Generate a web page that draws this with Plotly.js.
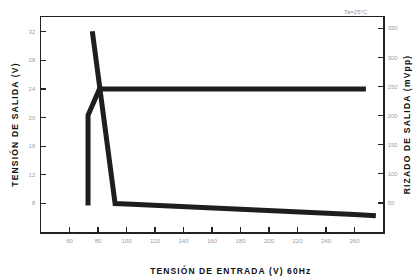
<!DOCTYPE html>
<html><head><meta charset="utf-8">
<script src="https://cdn.plot.ly/plotly-3.0.1.min.js"></script>
<style>
body{margin:0;background:#fff}
#c{width:416px;height:277px}
.ytitle,.y2title{letter-spacing:1.2px}
g.annotation[data-index="0"] text{letter-spacing:1.1px}
</style></head><body>
<div id="c"></div>
<script>
// Output voltage (left axis, V)
const voutX = [73, 73, 81, 268];
const voutY = [7.7, 20.3, 24.0, 24.0];
// Output ripple (right axis, mVpp)
const ripX = [76, 92, 100, 120, 140, 160, 180, 200, 220, 240, 260, 275];
const ripY = [345, 49, 48, 46, 44, 42, 39, 36, 34, 32, 30, 28];
const xTicks = [60, 80, 100, 120, 140, 160, 180, 200, 220, 240, 260];
const yTicks = [8, 12, 16, 20, 24, 28, 32];
const y2Ticks = [50, 100, 150, 200, 250, 300, 350];

const tickFont = {family: 'Liberation Sans, Arial, sans-serif', size: 6, color: '#a0a0a0'};
const titleFont = {family: 'Liberation Sans, Arial, sans-serif', size: 8.5, color: '#111', weight: 'bold'};

const traces = [
  {x: voutX, y: voutY, type: 'scatter', mode: 'lines', name: 'Tensión de salida',
   line: {color: '#1e1e1e', width: 5}, yaxis: 'y', showlegend: false},
  {x: ripX, y: ripY, type: 'scatter', mode: 'lines', name: 'Rizado de salida',
   line: {color: '#1e1e1e', width: 5}, yaxis: 'y2', showlegend: false}
];

const layout = {
  width: 416, height: 277,
  margin: {l: 41, r: 33, t: 17, b: 45},
  paper_bgcolor: '#fff', plot_bgcolor: '#fff',
  showlegend: false,
  xaxis: {range: [40, 280], tickvals: xTicks, ticktext: xTicks.map(String),
    ticks: 'inside', ticklen: 5, tickwidth: 1.2, tickcolor: '#222',
    showline: true, linecolor: '#222', linewidth: 1.5, mirror: true,
    showgrid: false, zeroline: false, tickfont: tickFont, ticklabelstandoff: 2},
  yaxis: {range: [4, 34.05], tickvals: yTicks, ticktext: yTicks.map(String),
    ticks: 'inside', ticklen: 5, tickwidth: 1.2, tickcolor: '#222',
    showline: true, linecolor: '#222', linewidth: 1.5,
    showgrid: false, zeroline: false, tickfont: tickFont, ticklabelstandoff: 3,
    title: {text: 'TENSIÓN DE SALIDA (V)', font: titleFont, standoff: 8}},
  yaxis2: {range: [0, 369.5], overlaying: 'y', side: 'right',
    tickvals: y2Ticks, ticktext: y2Ticks.map(String),
    ticks: 'inside', ticklen: 5, tickwidth: 1.2, tickcolor: '#222',
    showline: true, linecolor: '#222', linewidth: 1.5,
    showgrid: false, zeroline: false, tickfont: tickFont, ticklabelstandoff: 2,
    title: {text: 'RIZADO DE SALIDA (mVpp)', font: titleFont, standoff: 6}},
  annotations: [
    {text: 'TENSIÓN DE ENTRADA (V) 60Hz', xref: 'paper', yref: 'paper',
     x: 0.553, y: -0.178, showarrow: false, font: titleFont, xanchor: 'center', yanchor: 'middle'},
    {text: 'Ta=25°C', xref: 'paper', yref: 'paper', x: 0.92, y: 1.0, yanchor: 'bottom',
     xanchor: 'center', showarrow: false, font: {family: 'Liberation Sans, Arial, sans-serif', size: 6, color: '#999'}}
  ]
};
Plotly.newPlot('c', traces, layout, {displayModeBar: false, staticPlot: true});
</script></body></html>
